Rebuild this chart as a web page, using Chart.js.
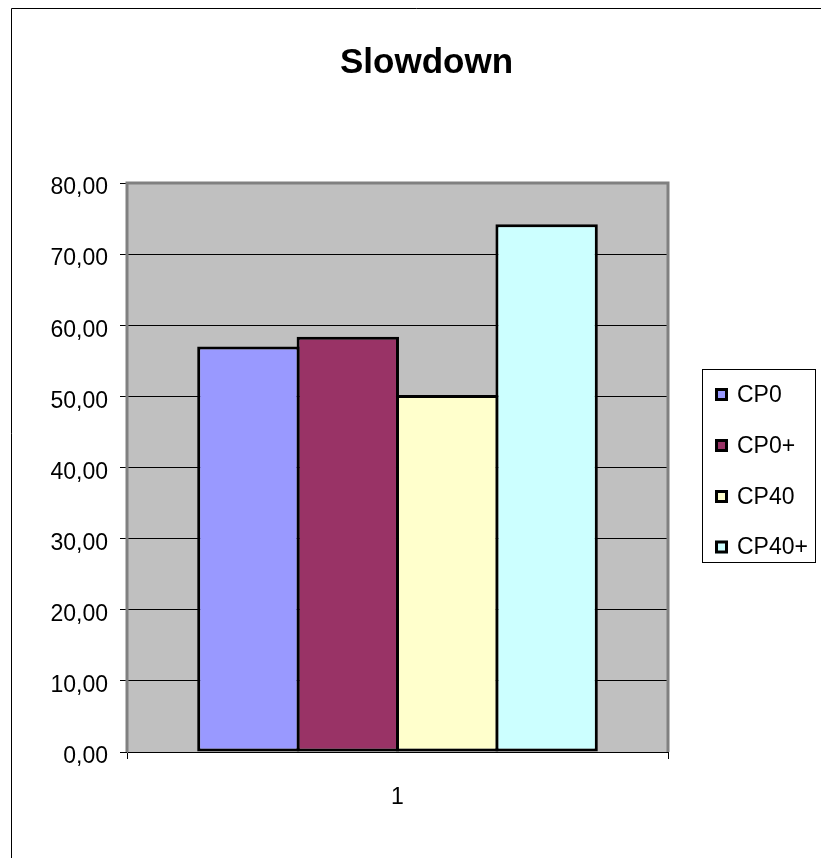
<!DOCTYPE html>
<html>
<head>
<meta charset="utf-8">
<script src="https://cdn.jsdelivr.net/npm/chart.js@4/dist/chart.umd.min.js"></script>
<style>
  html, body { margin: 0; padding: 0; background: #fff; overflow: hidden; }
  #wrap { position: relative; width: 821px; height: 858px; }
  canvas { display: block; }
</style>
</head>
<body>
<div id="wrap"><canvas id="chart" width="821" height="858"></canvas></div>
<script>
// Chart content
const chartTitle = 'Slowdown';
const categories = ['1'];
const seriesNames = ['CP0', 'CP0+', 'CP40', 'CP40+'];
const cp0Values = [57.0];
const cp0PlusValues = [58.4];
const cp40Values = [50.2];
const cp40PlusValues = [74.2];
const seriesColors = ['#9999FF', '#993366', '#FFFFCC', '#CCFFFF'];
const yTickMin = 0;
const yTickMax = 80;
const yTickStep = 10;

const seriesValues = [cp0Values, cp0PlusValues, cp40Values, cp40PlusValues];
const FONT = '"Liberation Sans", Arial, Helvetica, sans-serif';

// Formats axis values with a decimal comma and two decimals: 80,00
const formatTick = v => Number(v).toFixed(2).replace('.', ',');

const sheetDecor = {
  id: 'sheetDecor',
  beforeDraw(chart) {
    const { ctx, chartArea: a } = chart;
    ctx.save();
    ctx.fillStyle = '#ffffff';
    ctx.fillRect(0, 0, chart.width, chart.height);
    // outer chart frame
    ctx.strokeStyle = '#000000';
    ctx.lineWidth = 1;
    ctx.beginPath();
    ctx.moveTo(11.5, chart.height);
    ctx.lineTo(11.5, 8.5);
    ctx.lineTo(chart.width, 8.5);
    ctx.stroke();
    // plot area fill
    ctx.fillStyle = '#C0C0C0';
    ctx.fillRect(a.left, a.top, a.right - a.left, a.bottom - a.top);
    ctx.restore();
  },
  beforeDatasetsDraw(chart) {
    const { ctx, chartArea: a } = chart;
    ctx.save();
    ctx.strokeStyle = '#808080';
    ctx.lineWidth = 3;
    ctx.beginPath();
    ctx.moveTo(a.left, a.bottom);
    ctx.lineTo(a.left, a.top);
    ctx.lineTo(a.right, a.top);
    ctx.lineTo(a.right, a.bottom);
    ctx.stroke();
    ctx.restore();
  },
  afterDraw(chart) {
    const { ctx } = chart;
    ctx.save();
    // title
    ctx.fillStyle = '#000';
    ctx.font = 'bold 35px ' + FONT;
    ctx.textAlign = 'center';
    ctx.textBaseline = 'alphabetic';
    ctx.fillText(chartTitle, 426.5, 73);

    // legend box
    const box = { left: 702.5, top: 369.5, right: 815.5, bottom: 562.5 };
    ctx.fillStyle = '#ffffff';
    ctx.fillRect(box.left, box.top, box.right - box.left, box.bottom - box.top);
    ctx.strokeStyle = '#000';
    ctx.lineWidth = 1;
    ctx.strokeRect(box.left, box.top, box.right - box.left, box.bottom - box.top);

    const rowY = [394.5, 445.5, 496.5, 547];
    ctx.font = '23px ' + FONT;
    ctx.textAlign = 'left';
    ctx.textBaseline = 'middle';
    chart.data.datasets.forEach((ds, i) => {
      const y = rowY[i];
      ctx.fillStyle = ds.backgroundColor;
      ctx.fillRect(715, y - 6.5, 13, 13);
      ctx.strokeStyle = '#000';
      ctx.lineWidth = 3;
      ctx.strokeRect(716.5, y - 5, 10, 10);
      ctx.fillStyle = '#000';
      ctx.fillText(ds.label, 737, y + 1);
    });
    ctx.restore();
  }
};

new Chart(document.getElementById('chart'), {
  type: 'bar',
  data: {
    labels: categories,
    datasets: seriesNames.map((name, i) => ({
      label: name,
      data: seriesValues[i],
      backgroundColor: seriesColors[i],
      borderColor: '#000000',
      borderWidth: 3,
      borderSkipped: false,
      categoryPercentage: 0.735,
      barPercentage: 1.03
    }))
  },
  options: {
    responsive: false,
    devicePixelRatio: 1,
    animation: false,
    layout: { padding: { top: 183, right: 153, left: 0, bottom: 0 } },
    plugins: {
      legend: { display: false },
      title: { display: false },
      tooltip: { enabled: false }
    },
    scales: {
      x: {
        offset: true,
        grid: {
          display: true,
          offset: true,
          drawOnChartArea: false,
          drawTicks: true,
          tickLength: 7,
          color: '#000000'
        },
        border: { display: true, color: '#000000', width: 1 },
        ticks: {
          color: '#000000',
          font: { family: FONT, size: 23 },
          padding: 25
        },
        afterFit(scale) { scale.height = 106; }
      },
      y: {
        min: yTickMin,
        max: yTickMax,
        grid: {
          color: '#000000',
          lineWidth: 1,
          drawTicks: true,
          tickLength: 7,
          tickColor: '#000000'
        },
        border: { display: true, color: '#808080', width: 1 },
        ticks: {
          stepSize: yTickStep,
          color: '#000000',
          font: { family: FONT, size: 23 },
          padding: 12,
          labelOffset: 5,
          callback: formatTick
        },
        afterFit(scale) { scale.width = 127; }
      }
    }
  },
  plugins: [sheetDecor]
});
</script>
</body>
</html>
